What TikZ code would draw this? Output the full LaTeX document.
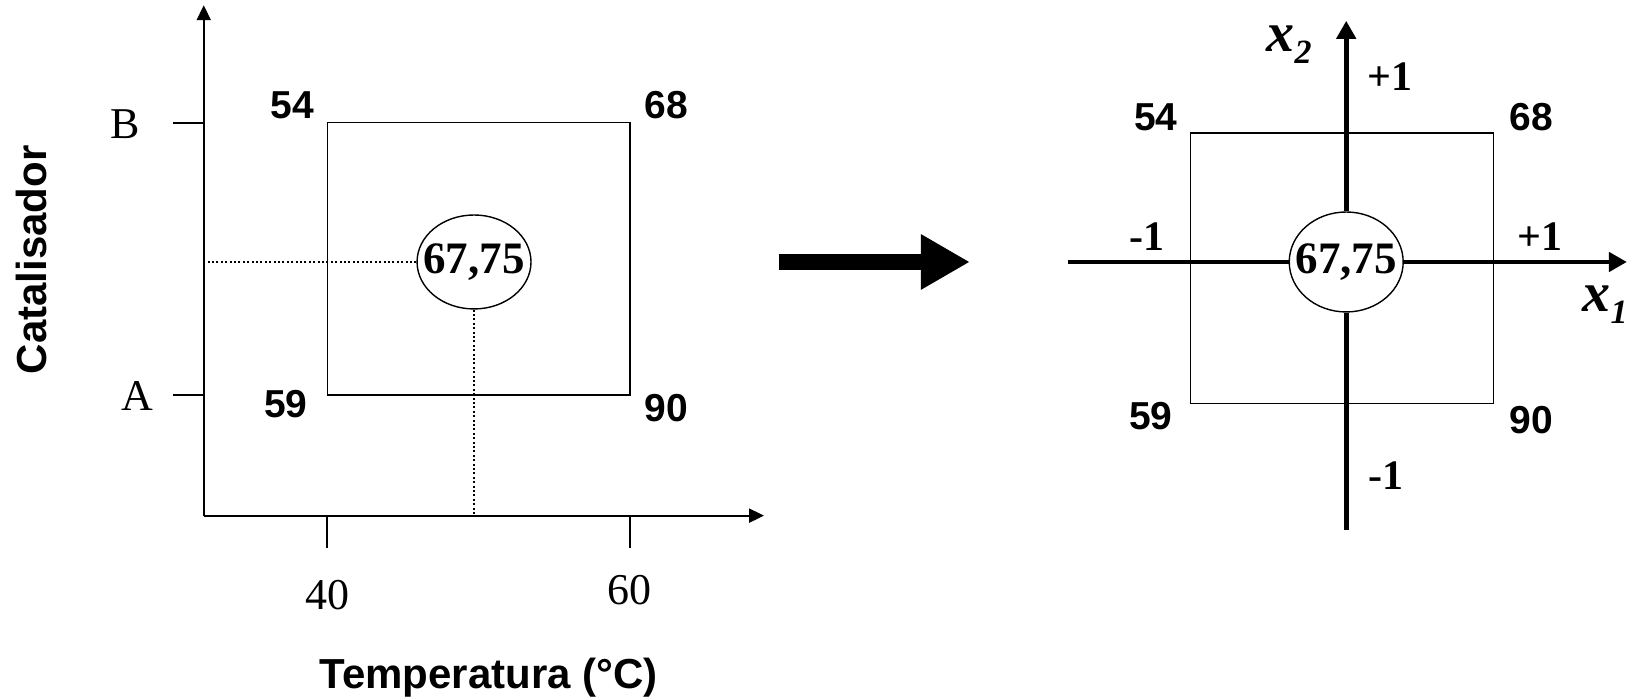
\documentclass[tikz,border=0pt]{standalone}
\usepackage{fontspec}
\setmainfont{Liberation Serif}
\setsansfont{Liberation Sans}
\usetikzlibrary{shapes.geometric,arrows.meta,positioning}

\begin{document}
\begin{tikzpicture}[
  x=0.52pt, y=-0.52pt,
  axis/.style={line width=1pt, -{Triangle[length=7.5pt,width=7pt]}},
  bold axis/.style={line width=2.4pt},
  bold arrow/.style={bold axis, -{Triangle[length=9pt,width=9.5pt]}},
  frame/.style={line width=0.8pt},
  guide/.style={line width=0.6pt, dash pattern=on 1pt off 1.2pt},
  num/.style={inner sep=0pt, font=\sffamily\bfseries\fontsize{19.5}{20}\selectfont},
  ticklab/.style={inner sep=0pt, font=\fontsize{22}{24}\selectfont},
  axlab/.style={inner sep=0pt, font=\sffamily\bfseries\fontsize{21}{24}\selectfont},
  coded/.style={inner sep=0pt, font=\bfseries\fontsize{21}{22}\selectfont},
  var/.style={inner sep=0pt, anchor=base west, font=\bfseries\itshape\fontsize{28}{30}\selectfont},
  centre/.style={ellipse, draw, line width=0.7pt, fill=white, inner xsep=-6pt, inner ysep=0pt,
    minimum width=57pt, minimum height=47pt, font=\bfseries\fontsize{22.5}{24}\selectfont}
]
\useasboundingbox (0,0) rectangle (1568,673);

% ----- original scale -----
\coordinate (O) at (196,496);
\coordinate (ytop) at (196,5);
\coordinate (xend) at (735,496);
\coordinate (tB) at (166,118);
\coordinate (tA) at (166,380);
\coordinate (t40) at (315,527);
\coordinate (t60) at (606,527);

\draw[frame] (315,118) rectangle (606,380);
\draw[axis] (O) -- (ytop);
\draw[axis] (O) -- (xend);
\draw[axis, -] (tB) -- (tB -| O);
\draw[axis, -] (tA) -- (tA -| O);
\draw[axis, -] (t40) -- (t40 |- O);
\draw[axis, -] (t60) -- (t60 |- O);

\node[centre] (cL) at (456,252) {67,75};
\draw[guide] (cL.west) -- (cL.west -| O);
\draw[guide] (cL.south) -- (cL.south |- O);

\node[ticklab] (labB) at (120,119) {B};
\node[ticklab] (labA) at (132,381) {A};
\node[ticklab] (lab40) at (315,572) {40};
\node[ticklab] (lab60) at (606,568) {60};

\node[num] (l54) at (281,101) {54};
\node[num] (l68) at (641,101) {68};
\node[num] (l59) at (275,389) {59};
\node[num] (l90) at (641,393) {90};

\node[axlab] (temp) at (470,652) {Temperatura (°C)};
\node[axlab, rotate=90] (cat) at (30,250) {Catalisador};

% ----- transition -----
\coordinate (ga) at (749,252);
\coordinate (gb) at (933,252);
\draw[line width=8.3pt, -{Triangle[length=24.5pt,width=26pt]}] (ga) -- (gb);

% ----- coded scale -----
\draw[line width=0.6pt] (1145,128) rectangle (1437,388);
\node[centre, minimum height=50pt] (cR) at (1295,252) {67,75};
\coordinate (x1a) at (1027,252);
\coordinate (x1b) at (1565,252);
\coordinate (x2a) at (1295,510);
\coordinate (x2b) at (1295,20);
\draw[bold axis] (x1a) -- (cR.west);
\draw[bold arrow] (cR.east) -- (x1b);
\draw[bold axis] (x2a) -- (cR.south);
\draw[bold arrow] (cR.north) -- (x2b);

\node[num] (r54) at (1112,113) {54};
\node[num] (r68) at (1473,113) {68};
\node[num] (r59) at (1107,400) {59};
\node[num] (r90) at (1473,404) {90};

\node[coded] (pTop) at (1337,74) {+1};
\node[coded] (pRight) at (1481,228) {+1};
\node[coded] (mLeft) at (1103,228) {-1};
\node[coded] (mBottom) at (1333,458) {-1};

\node[var] (vx2) at (1218,50) {x\raisebox{-6pt}{\fontsize{17}{18}\selectfont 2}};
\node[var] (vx1) at (1522,300) {x\raisebox{-6pt}{\fontsize{17}{18}\selectfont 1}};
\end{tikzpicture}
\end{document}
